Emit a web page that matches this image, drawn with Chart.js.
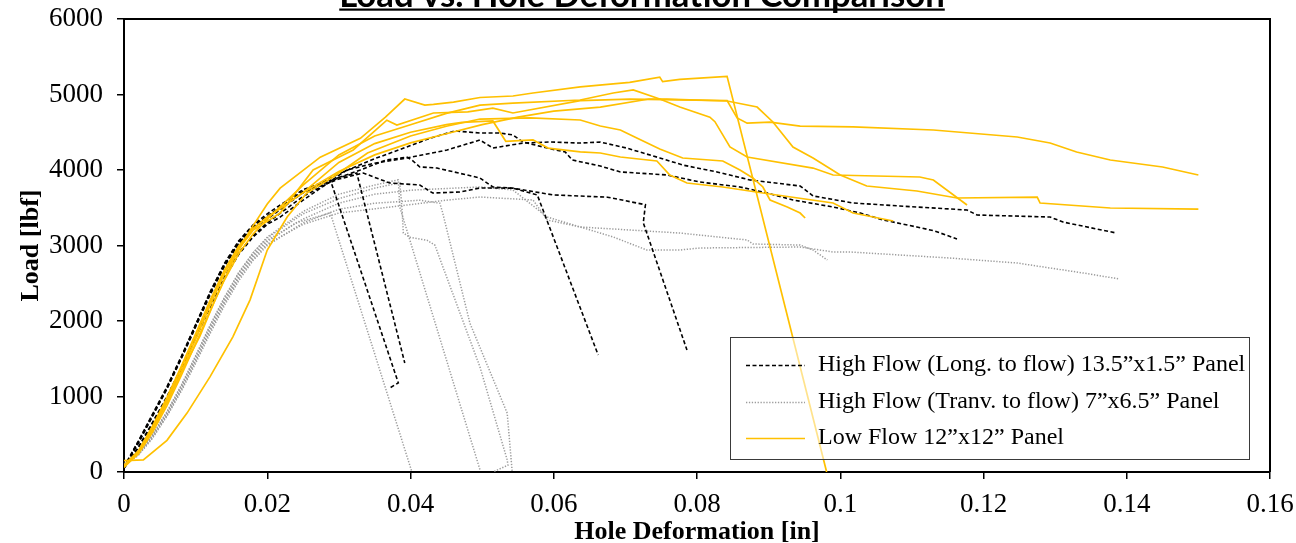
<!DOCTYPE html>
<html>
<head>
<meta charset="utf-8">
<script src="https://cdn.jsdelivr.net/npm/chart.js@4.4.1/dist/chart.umd.min.js"></script>
<style>
  html, body { margin: 0; padding: 0; background: #fff; }
  canvas { display: block; }
</style>
</head>
<body>
<canvas id="chart" width="1296" height="543"></canvas>
<script>
// Load [lbf] vs hole deformation [in], one array of [x, y] pairs per test specimen.

const seriesNames = [
  'High Flow (Long. to flow) 13.5\u201dx1.5\u201d Panel',
  'High Flow (Tranv. to flow) 7\u201dx6.5\u201d Panel',
  'Low Flow 12\u201dx12\u201d Panel'
];

const xTicks = [0, 0.02, 0.04, 0.06, 0.08, 0.1, 0.12, 0.14, 0.16];
const yTicks = [0, 1000, 2000, 3000, 4000, 5000, 6000];

// High flow, longitudinal specimens
const longA = [[0,60],[0.002,390],[0.004,750],[0.006,1110],[0.008,1510],[0.010,1940],[0.012,2370],[0.014,2750],[0.016,3050],[0.018,3260],[0.020,3390],[0.025,3700],[0.030,3950],[0.035,4150],[0.0385,4270],[0.0427,4420],[0.0462,4517],[0.0497,4490],[0.0525,4490],[0.0543,4464],[0.0557,4371],[0.0591,4291],[0.0616,4238],[0.0626,4132],[0.0665,4053],[0.0693,3974],[0.0758,3934],[0.0804,3841],[0.086,3775],[0.0898,3695],[0.0934,3603],[0.099,3510],[0.1028,3430],[0.106,3338],[0.1107,3245],[0.1132,3192],[0.1163,3086]];
const longB = [[0,50],[0.002,320],[0.004,640],[0.006,980],[0.008,1360],[0.010,1770],[0.012,2180],[0.014,2560],[0.016,2880],[0.018,3110],[0.020,3280],[0.0218,3377],[0.025,3600],[0.0311,4000],[0.035,4090],[0.0395,4159],[0.0451,4265],[0.0497,4397],[0.0515,4291],[0.0557,4357],[0.0595,4371],[0.0637,4357],[0.0665,4370],[0.0702,4290],[0.0725,4225],[0.0748,4160],[0.078,4066],[0.0828,3974],[0.0874,3868],[0.0944,3788],[0.0962,3656],[0.1018,3563],[0.1083,3523],[0.1177,3470],[0.1191,3404],[0.1293,3377],[0.1311,3311],[0.1385,3166]];
const longC = [[0,70],[0.002,410],[0.004,770],[0.006,1130],[0.008,1530],[0.010,1950],[0.012,2370],[0.014,2740],[0.016,3030],[0.018,3230],[0.020,3350],[0.025,3700],[0.030,3880],[0.0334,3960],[0.0371,3828],[0.0413,3801],[0.0431,3695],[0.0469,3709],[0.0497,3762],[0.0543,3760],[0.0577,3670],[0.0662,1550]];
const longD = [[0,50],[0.002,330],[0.004,660],[0.006,1000],[0.008,1380],[0.010,1790],[0.012,2200],[0.014,2580],[0.016,2900],[0.018,3130],[0.020,3300],[0.025,3650],[0.030,3900],[0.033,4000],[0.0365,4130],[0.0395,4170],[0.0402,4132],[0.0413,4040],[0.0437,4026],[0.0479,3934],[0.0497,3894],[0.0515,3775],[0.0543,3760],[0.0599,3670],[0.0637,3655],[0.0675,3640],[0.0728,3540],[0.0725,3300],[0.0786,1615]];
const longE = [[0,60],[0.002,380],[0.004,740],[0.006,1100],[0.008,1500],[0.010,1920],[0.012,2340],[0.014,2720],[0.016,3020],[0.018,3240],[0.020,3380],[0.025,3720],[0.030,3900],[0.0325,3960],[0.0392,1444]];
const longF = [[0,60],[0.002,400],[0.004,760],[0.006,1120],[0.008,1520],[0.010,1950],[0.012,2380],[0.014,2760],[0.016,3060],[0.018,3270],[0.020,3420],[0.025,3740],[0.0288,3870],[0.0383,1180],[0.0371,1113]];

// High flow, transverse specimens
const tranA = [[0,100],[0.002,230],[0.004,470],[0.006,760],[0.008,1100],[0.010,1480],[0.012,1880],[0.014,2250],[0.016,2580],[0.018,2850],[0.020,3050],[0.024,3300],[0.0288,3430],[0.0402,0]];
const tranB = [[0,110],[0.002,250],[0.004,500],[0.006,800],[0.008,1150],[0.010,1540],[0.012,1940],[0.014,2310],[0.016,2640],[0.018,2900],[0.020,3100],[0.025,3420],[0.030,3620],[0.035,3760],[0.0385,3830],[0.0388,3510],[0.039,3165],[0.0399,3110],[0.0423,3070],[0.0434,3005],[0.0497,1390],[0.0535,160],[0.0536,90],[0.0515,0]];
const tranC = [[0,100],[0.002,240],[0.004,490],[0.006,790],[0.008,1140],[0.010,1530],[0.012,1930],[0.014,2300],[0.016,2630],[0.018,2900],[0.020,3110],[0.025,3450],[0.030,3680],[0.035,3800],[0.0383,3870],[0.0385,3510],[0.0497,30]];
const tranD = [[0,90],[0.002,220],[0.004,450],[0.006,740],[0.008,1070],[0.010,1440],[0.012,1830],[0.014,2200],[0.016,2530],[0.018,2800],[0.020,3000],[0.025,3300],[0.030,3480],[0.035,3560],[0.0413,3600],[0.0441,3560],[0.0445,3430],[0.0483,1970],[0.0535,780],[0.0542,0]];
const tranE = [[0,100],[0.002,230],[0.004,460],[0.006,750],[0.008,1090],[0.010,1470],[0.012,1860],[0.014,2230],[0.016,2560],[0.018,2820],[0.020,3020],[0.025,3280],[0.030,3430],[0.0395,3536],[0.045,3600],[0.0497,3642],[0.0571,3603],[0.0591,3338],[0.0637,3245],[0.0776,3165],[0.087,3073],[0.0878,3020],[0.0944,3006],[0.0962,2940],[0.0982,2808]];
const tranF = [[0,100],[0.002,240],[0.004,480],[0.006,780],[0.008,1120],[0.010,1500],[0.012,1900],[0.014,2270],[0.016,2600],[0.018,2870],[0.020,3070],[0.025,3350],[0.030,3560],[0.035,3680],[0.0404,3735],[0.0497,3775],[0.0543,3735],[0.0591,3377],[0.0683,3113],[0.073,2940],[0.0776,2940],[0.0804,2967],[0.0944,2980],[0.099,2914],[0.1014,2914],[0.1153,2834],[0.1247,2768],[0.1339,2636],[0.139,2556]];

// Low flow specimens
const lowA = [[0,80],[0.002,260],[0.004,580],[0.006,930],[0.008,1320],[0.0106,1800],[0.0128,2300],[0.0152,2800],[0.0176,3200],[0.020,3550],[0.0218,3760],[0.0274,4170],[0.033,4420],[0.0365,4700],[0.0392,4940],[0.042,4860],[0.0432,4870],[0.046,4900],[0.0497,4960],[0.0543,4980],[0.0571,5020],[0.0637,5100],[0.0706,5160],[0.0748,5230],[0.0752,5170],[0.0776,5200],[0.0842,5240],[0.0981,0]];
const lowB = [[0,60],[0.002,250],[0.004,560],[0.006,920],[0.008,1330],[0.010,1760],[0.012,2200],[0.014,2620],[0.016,2950],[0.018,3200],[0.0218,3430],[0.0264,4000],[0.032,4265],[0.0367,4660],[0.0381,4595],[0.0432,4755],[0.048,4770],[0.0515,4820],[0.0543,4755],[0.0637,4920],[0.0706,4940],[0.0776,4930],[0.0842,4920],[0.0856,4690],[0.087,4620],[0.0902,4635],[0.0944,4580],[0.1018,4570],[0.113,4530],[0.1247,4437],[0.1293,4358],[0.133,4238],[0.1377,4132],[0.145,4040],[0.150,3934]];
const lowC = [[0,70],[0.002,240],[0.004,530],[0.006,880],[0.008,1280],[0.010,1700],[0.012,2130],[0.014,2540],[0.016,2890],[0.018,3150],[0.020,3350],[0.025,3800],[0.030,4200],[0.035,4450],[0.040,4600],[0.045,4750],[0.0497,4860],[0.0543,4887],[0.0637,4927],[0.0683,5020],[0.0711,5060],[0.0748,4940],[0.0776,4834],[0.0818,4700],[0.0825,4640],[0.0846,4305],[0.087,4172],[0.0962,4026],[0.099,3934],[0.1111,3907],[0.113,3868],[0.1177,3536]];
const lowD = [[0,80],[0.002,270],[0.004,590],[0.006,960],[0.008,1380],[0.010,1810],[0.012,2250],[0.014,2660],[0.016,2980],[0.018,3220],[0.020,3380],[0.025,3700],[0.030,3980],[0.035,4200],[0.040,4360],[0.045,4480],[0.050,4600],[0.055,4700],[0.060,4780],[0.0665,4834],[0.0733,4940],[0.0758,4940],[0.0842,4914],[0.0884,4834],[0.0906,4636],[0.0934,4305],[0.0962,4159],[0.100,3934],[0.1037,3788],[0.1107,3722],[0.1163,3629],[0.1275,3642],[0.1279,3563],[0.1377,3497],[0.150,3483]];
const lowE = [[0,150],[0.0027,160],[0.006,420],[0.0088,780],[0.012,1260],[0.0152,1790],[0.0176,2280],[0.020,2940],[0.0228,3380],[0.0255,3695],[0.0292,3907],[0.034,4225],[0.040,4450],[0.045,4580],[0.0497,4675],[0.0567,4690],[0.0637,4662],[0.0665,4583],[0.0693,4530],[0.0716,4424],[0.0748,4278],[0.078,4159],[0.0836,4119],[0.086,4000],[0.0878,3894],[0.0892,3775],[0.0902,3603],[0.0926,3510],[0.0944,3430],[0.0951,3364]];
const lowF = [[0,90],[0.002,280],[0.004,610],[0.006,990],[0.008,1400],[0.010,1830],[0.012,2270],[0.014,2670],[0.016,2990],[0.018,3220],[0.020,3370],[0.025,3700],[0.030,4100],[0.035,4350],[0.040,4500],[0.045,4600],[0.0472,4630],[0.0515,4650],[0.0533,4380],[0.0571,4400],[0.0592,4290],[0.0637,4240],[0.0665,4225],[0.0693,4172],[0.0744,4119],[0.0762,3934],[0.0786,3828],[0.0836,3775],[0.0892,3695],[0.099,3563],[0.1018,3430],[0.1074,3324]];

const longRuns = [longA, longB, longC, longD, longE, longF];
const tranRuns = [tranA, tranB, tranC, tranD, tranE, tranF];
const lowRuns  = [lowA, lowB, lowC, lowD, lowE, lowF];

const styles = [
  { color: '#000000', width: 1.6, dash: [4, 2.5] },
  { color: '#9c9c9c', width: 1.5, dash: [1.3, 1.6] },
  { color: '#FFC000', width: 1.7, dash: [] }
];

function toPoints(run) { return run.map(p => ({ x: p[0], y: p[1] })); }

const datasets = [];
// low flow first so it is painted on top
[[lowRuns, 2], [longRuns, 0], [tranRuns, 1]].forEach(([runs, s]) => {
  runs.forEach(run => {
    datasets.push({
      label: seriesNames[s],
      data: toPoints(run),
      showLine: true,
      borderColor: styles[s].color,
      borderWidth: styles[s].width,
      borderDash: styles[s].dash,
      pointRadius: 0,
      tension: 0,
      fill: false
    });
  });
});

const serif = '"Liberation Serif", "Times New Roman", serif';

const frameAndExtras = {
  id: 'frameAndExtras',
  afterDraw(chart) {
    const { ctx, chartArea: a } = chart;
    ctx.save();
    // top and right edges of the plot frame
    ctx.strokeStyle = '#000';
    ctx.lineWidth = 2;
    ctx.beginPath();
    ctx.moveTo(a.left, a.top);
    ctx.lineTo(a.right, a.top);
    ctx.lineTo(a.right, a.bottom);
    ctx.stroke();

    // chart title, bold and underlined
    const title = 'Load vs. Hole Deformation Comparison';
    ctx.fillStyle = '#000';
    ctx.font = 'bold 30px Lato, "Open Sans", sans-serif';
    let w = ctx.measureText(title).width;
    const size = 30 * 606 / w;
    ctx.font = 'bold ' + size.toFixed(1) + 'px Lato, "Open Sans", sans-serif';
    w = ctx.measureText(title).width;
    const cx = 642;
    ctx.textAlign = 'center';
    ctx.textBaseline = 'alphabetic';
    ctx.fillText(title, cx, 7);
    ctx.fillRect(cx - w / 2, 8.5, w, 2.2);

    // legend
    const lx = 730.5, ly = 337.5, lw = 519, lh = 122;
    ctx.fillStyle = 'rgba(255,255,255,0.55)';
    ctx.fillRect(lx, ly, lw, lh);
    ctx.strokeStyle = '#3a3a3a';
    ctx.lineWidth = 1;
    ctx.strokeRect(lx, ly, lw, lh);
    const rows = [365, 402, 438];
    ctx.font = '24px ' + serif;
    ctx.textAlign = 'left';
    ctx.textBaseline = 'middle';
    rows.forEach((ry, i) => {
      ctx.save();
      ctx.strokeStyle = styles[i].color;
      ctx.lineWidth = styles[i].width;
      ctx.setLineDash(styles[i].dash);
      ctx.beginPath();
      ctx.moveTo(746, ry + 0.5);
      ctx.lineTo(805, ry + 0.5);
      ctx.stroke();
      ctx.restore();
      ctx.fillStyle = '#000';
      ctx.fillText(seriesNames[i], 818, ry);
    });
    ctx.restore();
  }
};

new Chart(document.getElementById('chart'), {
  type: 'scatter',
  data: { datasets },
  plugins: [frameAndExtras],
  options: {
    responsive: false,
    animation: false,
    devicePixelRatio: 1,
    layout: { padding: { left: 0, right: 26, top: 19, bottom: 0 } },
    plugins: { legend: { display: false }, tooltip: { enabled: false }, title: { display: false } },
    scales: {
      x: {
        type: 'linear',
        min: xTicks[0],
        max: xTicks[xTicks.length - 1],
        afterBuildTicks: s => { s.ticks = xTicks.map(v => ({ value: v })); },
        afterFit: s => { s.height = 71; s.paddingLeft = 0; s.paddingRight = 0; },
        ticks: {
          color: '#000',
          font: { family: serif, size: 27 },
          padding: 10,
          maxRotation: 0,
          autoSkip: false,
          callback: v => String(+Number(v).toFixed(2))
        },
        grid: { drawOnChartArea: false, drawTicks: true, tickLength: 7, color: '#000', lineWidth: 1.5 },
        border: { display: true, color: '#000', width: 2 },
        title: {
          display: true,
          text: 'Hole Deformation [in]',
          color: '#000',
          font: { family: serif, size: 26, weight: 'bold', lineHeight: 0.8 },
          padding: { top: 0, bottom: 0 }
        }
      },
      y: {
        type: 'linear',
        min: yTicks[0],
        max: yTicks[yTicks.length - 1],
        afterBuildTicks: s => { s.ticks = yTicks.map(v => ({ value: v })); },
        afterFit: s => { s.width = 124; s.paddingTop = 0; s.paddingBottom = 0; },
        ticks: {
          color: '#000',
          font: { family: serif, size: 27 },
          padding: 14,
          callback: v => String(v)
        },
        grid: { drawOnChartArea: false, drawTicks: true, tickLength: 7, color: '#000', lineWidth: 1.5 },
        border: { display: true, color: '#000', width: 2 },
        title: {
          display: true,
          text: 'Load [lbf]',
          color: '#000',
          font: { family: serif, size: 26, weight: 'bold', lineHeight: 0.8 },
          padding: { top: 21, bottom: 0 }
        }
      }
    }
  }
});
</script>
</body>
</html>
